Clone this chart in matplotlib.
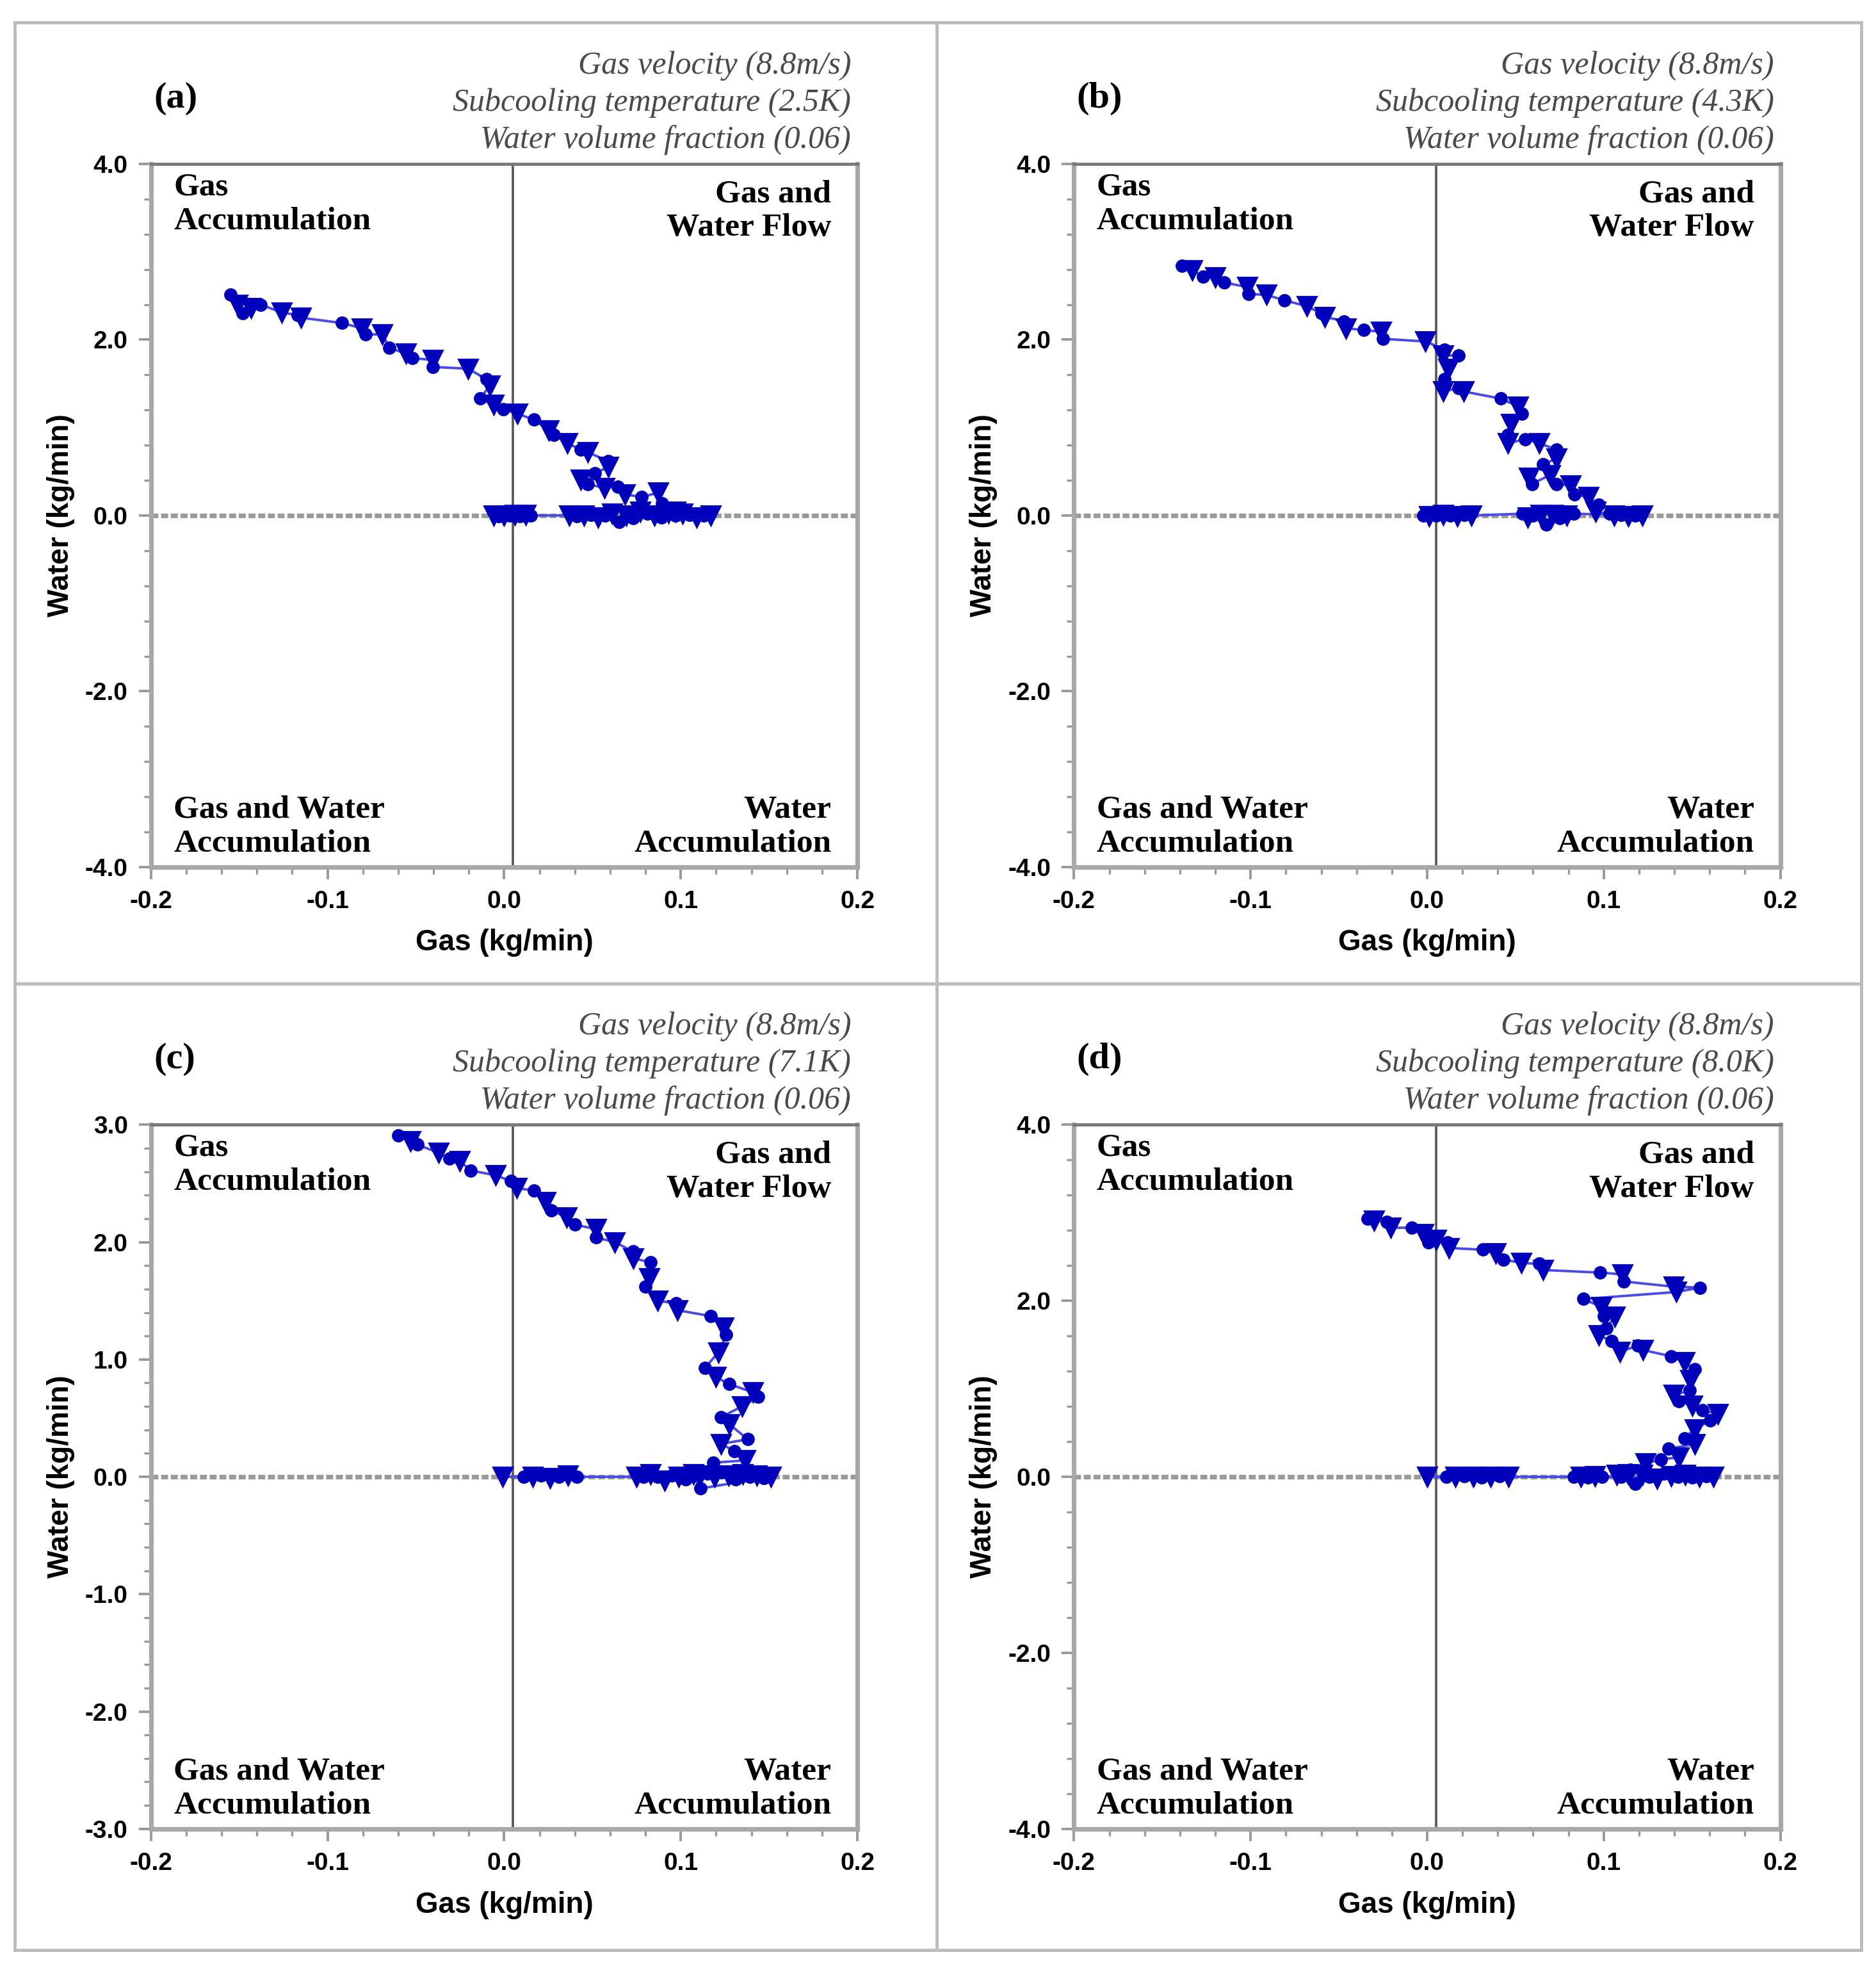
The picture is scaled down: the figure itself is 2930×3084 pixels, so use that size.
import numpy as np
import matplotlib.pyplot as plt
from matplotlib.lines import Line2D
from matplotlib.patches import Rectangle
from matplotlib.ticker import MultipleLocator

plt.rcParams['font.family'] = ['Liberation Sans', 'DejaVu Sans']

# --- data (kg/min) ---
# trajectory from the top end down to the zero line, then along the zero line
gas_a = [-0.155, -0.151, -0.148, -0.1435, -0.138, -0.126, -0.117, -0.115, -0.092, -0.0805,
         -0.0786, -0.069, -0.065, -0.0557, -0.052, -0.0405, -0.0405, -0.0204, -0.0099, -0.008,
         -0.0137, -0.0061, -0.0004, 0.0073, 0.0168, 0.0254, 0.0282, 0.0359, 0.0435, 0.0473,
         0.0588, 0.0588, 0.0512, 0.0435, 0.0473, 0.0569, 0.0645, 0.0683, 0.0779, 0.0874,
         0.0893, 0.097, 0.1084, 0.117,
         0.113, 0.109, 0.105, 0.101, 0.097, 0.093, 0.089, 0.085, 0.081, 0.077, 0.073, 0.069,
         0.065, 0.061, 0.057, 0.053, 0.049, 0.045, 0.041, 0.037,
         0.015, 0.012, 0.009, 0.006, 0.003, 0.000, -0.003, -0.006]
water_a = [2.51, 2.40, 2.30, 2.36, 2.40, 2.31, 2.28, 2.25, 2.19, 2.13,
           2.06, 2.06, 1.91, 1.84, 1.79, 1.77, 1.69, 1.67, 1.55, 1.48,
           1.33, 1.26, 1.21, 1.16, 1.09, 0.97, 0.92, 0.82, 0.75, 0.72,
           0.62, 0.55, 0.48, 0.41, 0.36, 0.31, 0.33, 0.24, 0.21, 0.26,
           0.14, 0.04, 0.02, 0.00,
           0.00, -0.02, 0.01, 0.02, 0.00, 0.03, -0.02, 0.00, 0.02, 0.04, -0.03, 0.00,
           -0.07, 0.02, 0.00, -0.02, 0.01, 0.00, -0.01, 0.00,
           0.00, 0.01, -0.01, 0.01, 0.00, 0.00, -0.01, 0.00]

gas_b = [-0.139, -0.133, -0.127, -0.120, -0.115, -0.102, -0.101, -0.091, -0.081, -0.068,
         -0.060, -0.058, -0.047, -0.046, -0.036, -0.026, -0.025, -0.001, 0.0099, 0.0089,
         0.0179, 0.0119, 0.0099, 0.0089, 0.0179, 0.0208, 0.0417, 0.0516, 0.0536, 0.0476,
         0.0457, 0.0457, 0.0556, 0.0635, 0.0734, 0.0734, 0.0655, 0.0576, 0.0595, 0.0695,
         0.0734, 0.0814, 0.0834, 0.0913, 0.0973, 0.0953, 0.1032,
         0.106, 0.110, 0.114, 0.118, 0.122,
         0.083, 0.079, 0.075, 0.071, 0.0675, 0.064, 0.060, 0.057, 0.054,
         0.025, 0.021, 0.017, 0.013, 0.009, 0.005, 0.001, -0.002]
water_b = [2.84, 2.79, 2.72, 2.71, 2.65, 2.60, 2.52, 2.51, 2.45, 2.38,
           2.30, 2.26, 2.21, 2.13, 2.11, 2.09, 2.01, 1.98, 1.89, 1.82,
           1.82, 1.67, 1.55, 1.41, 1.45, 1.41, 1.33, 1.24, 1.16, 1.04,
           0.92, 0.82, 0.87, 0.82, 0.75, 0.65, 0.58, 0.43, 0.36, 0.46,
           0.36, 0.34, 0.24, 0.21, 0.12, 0.04, 0.02,
           0.00, 0.01, -0.01, 0.00, 0.00,
           0.02, 0.00, -0.03, 0.01, -0.10, 0.01, 0.00, -0.02, 0.02,
           0.00, 0.01, -0.01, 0.00, 0.01, 0.00, -0.01, 0.00]

gas_c = [-0.060, -0.053, -0.049, -0.037, -0.031, -0.025, -0.019, -0.005, 0.004, 0.007,
         0.017, 0.0235, 0.0265, 0.0355, 0.040, 0.052, 0.052, 0.0626, 0.073, 0.073,
         0.083, 0.082, 0.080, 0.0867, 0.0972, 0.098, 0.1168, 0.1243, 0.1258, 0.1213,
         0.1138, 0.1198, 0.1274, 0.1409, 0.1439, 0.1349, 0.1228, 0.1274, 0.1379, 0.1228,
         0.1304, 0.1364, 0.1183, 0.1108,
         0.115, 0.119, 0.123, 0.127, 0.131, 0.135, 0.139, 0.143, 0.147, 0.151,
         0.111, 0.107, 0.103, 0.099, 0.095, 0.091, 0.087, 0.083, 0.079, 0.075,
         0.041, 0.036, 0.031, 0.026, 0.021, 0.016, 0.011, -0.001]
water_c = [2.91, 2.86, 2.83, 2.76, 2.71, 2.69, 2.61, 2.57, 2.52, 2.46,
           2.44, 2.34, 2.27, 2.21, 2.15, 2.11, 2.04, 2.00, 1.92, 1.86,
           1.83, 1.69, 1.62, 1.50, 1.48, 1.42, 1.37, 1.27, 1.21, 1.06,
           0.93, 0.85, 0.79, 0.72, 0.68, 0.60, 0.51, 0.45, 0.32, 0.28,
           0.22, 0.14, 0.12, 0.01,
           0.03, 0.00, 0.04, 0.01, -0.02, 0.02, 0.00, 0.01, -0.01, 0.00,
           -0.10, 0.02, -0.02, 0.00, 0.01, -0.03, 0.00, 0.02, 0.00, 0.00,
           0.00, 0.01, 0.00, -0.01, 0.01, 0.00, 0.00, 0.00]

gas_d = [-0.0336, -0.030, -0.0227, -0.0205, -0.0088, -0.0022, 0.0007, 0.0051, 0.0117, 0.0124,
         0.0315, 0.0388, 0.0432, 0.0534, 0.0636, 0.0658, 0.098, 0.1105, 0.1112, 0.1397,
         0.1544, 0.1412, 0.0885, 0.0988, 0.1002, 0.1061, 0.1017, 0.0973, 0.1046, 0.109,
         0.1192, 0.1222, 0.1383, 0.1456, 0.1514, 0.1492, 0.1485, 0.1397, 0.1426, 0.150,
         0.1558, 0.1646, 0.1602, 0.1514, 0.1456, 0.1514, 0.1368, 0.1426, 0.1324, 0.1236,
         0.1148, 0.1075,
         0.110, 0.114, 0.118, 0.122, 0.126, 0.130, 0.134, 0.138, 0.142, 0.146, 0.150, 0.154,
         0.158, 0.162,
         0.099, 0.095, 0.091, 0.087, 0.083,
         0.046, 0.041, 0.036, 0.031, 0.026, 0.021, 0.016, 0.011, 0.000]
water_d = [2.93, 2.91, 2.90, 2.83, 2.83, 2.76, 2.66, 2.69, 2.66, 2.60,
           2.58, 2.54, 2.47, 2.43, 2.42, 2.35, 2.32, 2.30, 2.22, 2.16,
           2.15, 2.10, 2.02, 1.93, 1.83, 1.82, 1.69, 1.61, 1.54, 1.42,
           1.49, 1.44, 1.37, 1.30, 1.22, 1.10, 0.98, 0.93, 0.86, 0.81,
           0.76, 0.71, 0.64, 0.54, 0.44, 0.37, 0.32, 0.22, 0.20, 0.15,
           0.08, 0.02,
           0.00, 0.03, -0.08, 0.02, 0.00, -0.02, 0.04, 0.01, 0.00, 0.02, -0.01, 0.00,
           0.01, 0.00,
           0.00, 0.01, -0.01, 0.00, 0.00,
           0.00, 0.01, 0.00, -0.01, 0.00, 0.01, 0.00, 0.00, 0.00]

panel_tags = ['(a)', '(b)', '(c)', '(d)']
subcooling = ['2.5K', '4.3K', '7.1K', '8.0K']
y_limits = [(-4.0, 4.0), (-4.0, 4.0), (-3.0, 3.0), (-4.0, 4.0)]
y_major = [2.0, 2.0, 1.0, 2.0]
y_minor = [0.4, 0.4, 0.2, 0.4]
x_ticks = [-0.2, -0.1, 0.0, 0.1, 0.2]
series = [(gas_a, water_a), (gas_b, water_b), (gas_c, water_c), (gas_d, water_d)]

# --- figure ---
fig = plt.figure(figsize=(14.65, 15.42), dpi=200)

ax_rects = [
    [0.0805, 0.561, 0.3765, 0.356],
    [0.5725, 0.561, 0.3765, 0.356],
    [0.0805, 0.074, 0.3765, 0.3565],
    [0.5725, 0.074, 0.3765, 0.3565],
]

blue = '#0000bb'
serif = ['Liberation Serif', 'DejaVu Serif']

for i, rect in enumerate(ax_rects):
    ax = fig.add_axes(rect)
    gas, water = series[i]
    gas = np.array(gas)
    water = np.array(water)

    ax.set_xlim(-0.2, 0.2)
    ax.set_ylim(*y_limits[i])

    ax.axhline(0, color='#9a9a9a', lw=2.6, ls=(0, (1.5, 0.6)), zorder=1)
    ax.axvline(0.005, color='#555555', lw=1.3, zorder=1)

    ax.plot(gas, water, color='#4a4ae6', lw=1.4, zorder=2)
    ax.plot(gas[::2], water[::2], ls='none', marker='o', ms=6.5, color=blue, zorder=3)
    ax.plot(gas[1::2], water[1::2], ls='none', marker='v', ms=11, color=blue, zorder=3)

    for side in ['left', 'bottom', 'right']:
        ax.spines[side].set_color('#a8a8a8')
        ax.spines[side].set_linewidth(2.6)
    ax.spines['top'].set_color('#7a7a7a')
    ax.spines['top'].set_linewidth(1.8)

    lo, hi = y_limits[i]
    y_ticks = np.arange(lo, hi + 0.001, y_major[i])
    ax.set_xticks(x_ticks, labels=[f'{v:.1f}' for v in x_ticks], fontweight='bold')
    ax.set_yticks(y_ticks, labels=[f'{v:.1f}' for v in y_ticks], fontweight='bold')
    ax.xaxis.set_minor_locator(MultipleLocator(0.02))
    ax.yaxis.set_minor_locator(MultipleLocator(y_minor[i]))
    ax.tick_params(which='major', direction='out', length=7, width=1.4, color='#999999',
                   labelsize=14, pad=6, top=False, right=False)
    ax.tick_params(which='minor', direction='out', length=4, width=1.2, color='#999999',
                   top=False, right=False)

    ax.text(0.5, -0.108, 'Gas (kg/min)', transform=ax.transAxes, ha='center', va='center',
            fontsize=16.5, fontweight='bold')
    ax.text(-0.128, 0.5, 'Water (kg/min)', transform=ax.transAxes, ha='center', va='center',
            rotation=90, fontsize=16.5, fontweight='bold')

    # quadrant labels
    q = dict(transform=ax.transAxes, fontsize=18.5, fontweight='bold', family=serif,
             linespacing=1.2)
    ax.text(0.032, 0.988, 'Gas\nAccumulation', ha='left', va='top', **q)
    ax.text(0.963, 0.978, 'Gas and\nWater Flow', ha='right', va='top', **q)
    ax.text(0.032, 0.012, 'Gas and Water\nAccumulation', ha='left', va='bottom', **q)
    ax.text(0.963, 0.012, 'Water\nAccumulation', ha='right', va='bottom', **q)

    # header
    ax.text(0.004, 1.093, panel_tags[i], transform=ax.transAxes, ha='left', va='center',
            fontsize=21, fontweight='bold', family=serif)
    a = dict(transform=ax.transAxes, ha='right', va='center', fontsize=18,
             style='italic', family=serif, color='#4a4a4a')
    ax.text(0.991, 1.140, 'Gas velocity (8.8m/s)', **a)
    ax.text(0.991, 1.087, f'Subcooling temperature ({subcooling[i]})', **a)
    ax.text(0.991, 1.034, 'Water volume fraction (0.06)', **a)

# outer frame and dividers
frame_col = '#bdbdbd'
fig.add_artist(Rectangle((0.008, 0.0128), 0.984, 0.9757, fill=False, ec=frame_col, lw=1.8,
                         transform=fig.transFigure))
fig.add_artist(Line2D([0.4993, 0.4993], [0.0128, 0.9885], color=frame_col, lw=1.8,
                      transform=fig.transFigure))
fig.add_artist(Line2D([0.008, 0.992], [0.502, 0.502], color=frame_col, lw=1.8,
                      transform=fig.transFigure))

fig.savefig('out.png', dpi=200)
